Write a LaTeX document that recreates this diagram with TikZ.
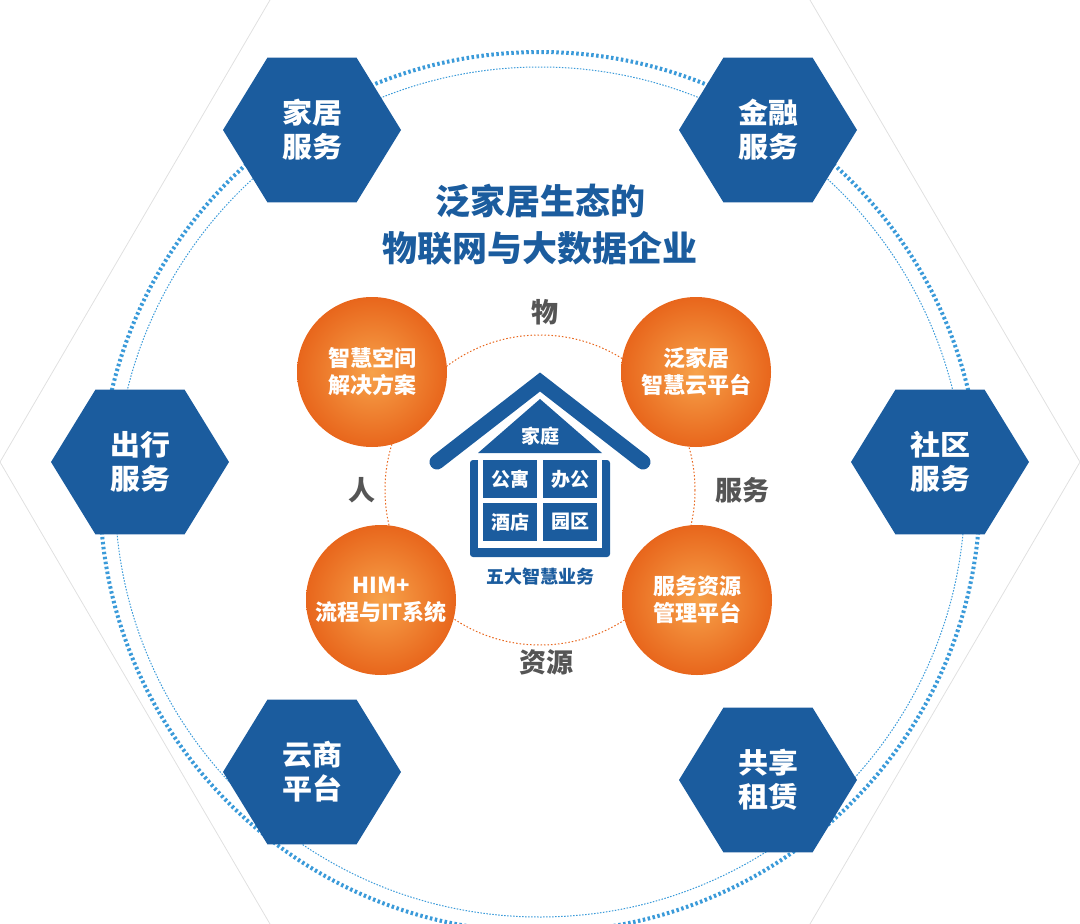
\documentclass[tikz,border=0pt]{standalone}
\usepackage{fontspec}
\setmainfont{Noto Sans CJK SC}
\usetikzlibrary{shapes.geometric}
\definecolor{hexblue}{HTML}{1B5C9E}
\definecolor{dotblue}{HTML}{3A9AD9}
\definecolor{orangeA}{HTML}{F7A24A}
\definecolor{orangeB}{HTML}{E8661C}
\definecolor{labelgrey}{HTML}{555555}
\tikzset{
  hexnode/.style={regular polygon,regular polygon sides=6,shape border rotate=0,
    fill=hexblue,minimum size=178pt,inner sep=0pt,text=white,yscale=0.94,
    font=\fontsize{30}{36}\selectfont\bfseries,align=center},
  ballnode/.style={circle,minimum size=150pt,inner sep=0pt,
    inner color=orangeA,outer color=orangeB,text=white,
    font=\fontsize{22}{27}\selectfont\bfseries,align=center},
  sidelabel/.style={text=labelgrey,font=\fontsize{27}{30}\selectfont\bfseries},
  roomnode/.style={fill=hexblue,minimum width=54pt,minimum height=38pt,
    inner sep=0pt,text=white,font=\fontsize{19}{22}\selectfont\bfseries}
}
\begin{document}
\begin{tikzpicture}[x=1pt,y=-1pt]
  \useasboundingbox (0,0) rectangle (1080,924);
  % background hexagon
  \draw[black!12,line width=0.8pt] (270,0) -- (0,462) -- (270,924);
  \draw[black!12,line width=0.8pt] (810,0) -- (1080,462) -- (810,924);
  % dotted rings
  \draw[dotblue,line width=4pt,dash pattern=on 2.5pt off 2.5pt] (540,492) circle (440);
  \draw[dotblue,line width=1pt,dash pattern=on 1.5pt off 1.5pt] (540,492) circle (425);
  \draw[orangeB,line width=1pt,dash pattern=on 1.5pt off 2pt] (540,490) circle (155);
  % outer services
  \node[hexnode] (home) at (312,130) {家居\\服务};
  \node[hexnode] (fin) at (768,130) {金融\\服务};
  \node[hexnode] (trip) at (140,462) {出行\\服务};
  \node[hexnode] (comm) at (940,462) {社区\\服务};
  \node[hexnode] (cloud) at (312,772) {云商\\平台};
  \node[hexnode] (share) at (768,780) {共享\\租赁};
  \node[text=hexblue,font=\fontsize{35}{47}\selectfont\bfseries,align=center]
    (title) at (540,225) {泛家居生态的\\物联网与大数据企业};
  % inner platforms
  \node[ballnode] (space) at (372,372) {智慧空间\\解决方案};
  \node[ballnode] (smart) at (696,372) {泛家居\\智慧云平台};
  \node[ballnode] (him) at (381,600) {HIM+\\流程与IT系统};
  \node[ballnode] (res) at (697,600) {服务资源\\管理平台};
  \node[sidelabel] (wu) at (545,312) {物};
  \node[sidelabel] (ren) at (362,490) {人};
  \node[sidelabel] (fw) at (742,490) {服务};
  \node[sidelabel] (zy) at (546,662) {资源};
  % house
  \draw[hexblue,line width=15pt,line cap=round,line join=miter] (437,462) -- (540,382) -- (643,462);
  \fill[hexblue] (540,399) -- (602,453) -- (478,453) -- cycle;
  \node[text=white,font=\fontsize{19}{22}\selectfont\bfseries] (family) at (540,436) {家庭};
  \fill[hexblue,rounded corners=3pt] (470,460) rectangle (610,557);
  \fill[white] (478,455) rectangle (602,548);
  \node[roomnode] (apt) at (510,479) {公寓};
  \node[roomnode] (office) at (570,479) {办公};
  \node[roomnode] (hotel) at (510,522) {酒店};
  \node[roomnode] (park) at (570,522) {园区};
  \node[text=hexblue,font=\fontsize{18}{22}\selectfont\bfseries] (five) at (540,577) {五大智慧业务};
\end{tikzpicture}
\end{document}
